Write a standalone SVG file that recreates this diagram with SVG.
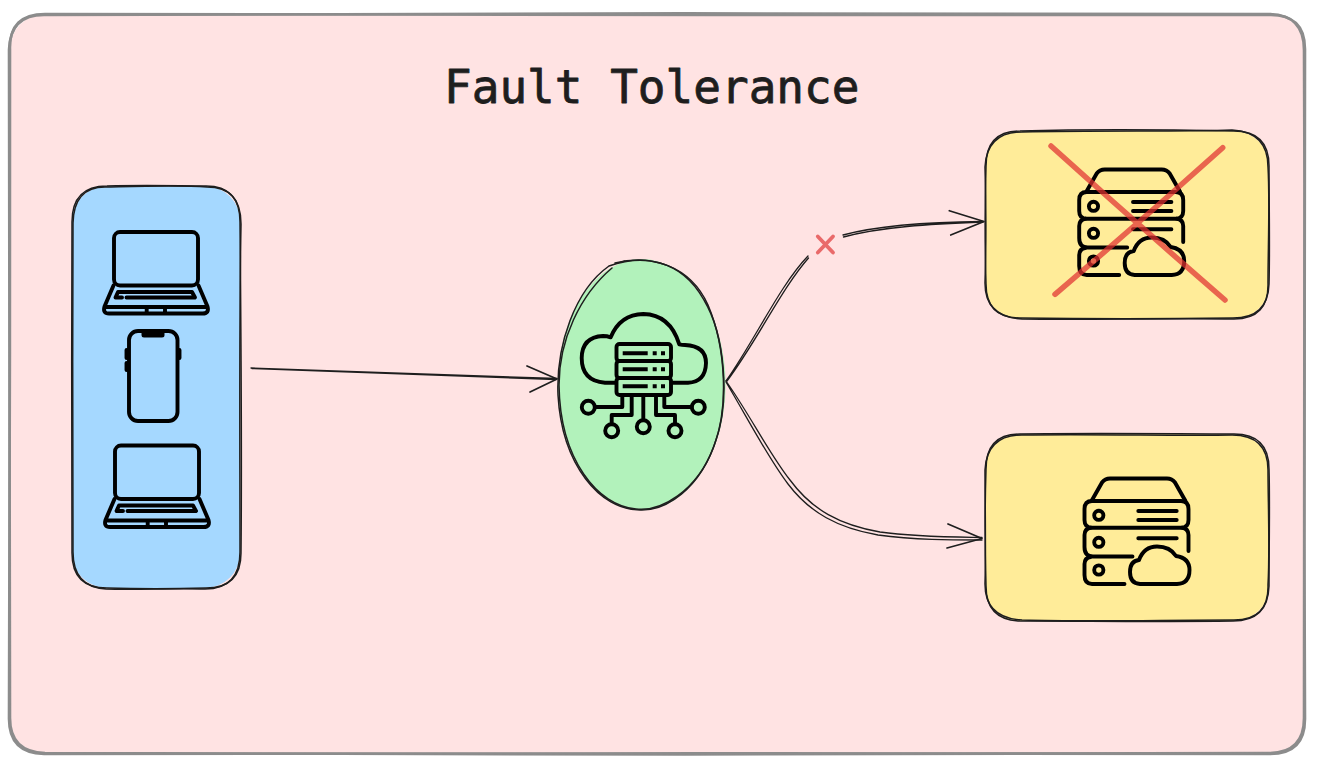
<svg xmlns="http://www.w3.org/2000/svg" width="1317" height="768" viewBox="0 0 1317 768">
<style>
.sk{fill:none;stroke:#1e1e1e;stroke-width:1.5;stroke-linecap:round;stroke-linejoin:round}
.fr{fill:none;stroke:#8c8c8c;stroke-width:2.600;stroke-linecap:round}
.ic{fill:none;stroke:#000;stroke-width:3.900;stroke-linecap:round;stroke-linejoin:round}
.cn{fill:none;stroke:#1e1e1e;stroke-width:1.300;stroke-linecap:round;stroke-linejoin:round}
.hd{fill:none;stroke:#1e1e1e;stroke-width:1.700;stroke-linecap:round;stroke-linejoin:round}
.xr{fill:none;stroke:#e03131;stroke-opacity:.72;stroke-width:5.500;stroke-linecap:round}
.title{font-family:"DejaVu Sans Mono","Liberation Mono",monospace;font-size:46px;fill:#1e1e1e;stroke:#1e1e1e;stroke-width:.8;stroke-linejoin:round}
</style>
<defs>
<g id="laptop">
<rect class="ic" x="114" y="232" width="84" height="53.500" rx="6"/>
<path class="ic" d="M113.500 285.500L104.500 306.500Q102.500 313.500 109 313.500H202.500Q209.500 313.500 207.500 306.500L198.500 285.500M105 307H207.500M146.700 307V313.500M165 307V313.500M122 297.500H115.500L118 292H192L195 297.500H126.500"/>
</g>
<g id="server">
<path class="ic" d="M1091.500 501L1102 482.500Q1105 478.500 1110 478.500H1167Q1172 478.500 1175 482.500L1185.500 501"/>
<path class="ic" d="M1092 501H1181Q1188.500 501 1188.500 509V520Q1188.500 527.700 1181 527.700H1092Q1084.500 527.700 1084.500 520V509Q1084.500 501 1092 501Z"/>
<path class="ic" d="M1091 527.700Q1084.500 528.500 1084.500 535V547Q1084.500 556.500 1093 556.500H1132.500M1182 527.700Q1188.500 528.500 1188.500 535V551"/>
<path class="ic" d="M1090.500 557Q1084.500 558 1084.500 564V575Q1084.500 584 1092 584H1124.500"/>
<circle class="ic" cx="1098.800" cy="515.300" r="4.600"/>
<circle class="ic" cx="1098.800" cy="542.300" r="4.600"/>
<circle class="ic" cx="1098.800" cy="570" r="4.600"/>
<path class="ic" d="M1138.300 511H1176.700M1138.300 520H1176.700M1138.300 538.300H1176.700"/>
<path class="ic" d="M1140 584H1177Q1189.500 583.500 1189.500 570Q1189.500 558 1176 556Q1170 546.500 1157 546.500Q1144 546.500 1139 560Q1130 561 1130 572Q1130 583.500 1140 584Z"/>
</g>
</defs>

<g id="frame">
<rect x="10" y="14" width="1295" height="740" rx="35" fill="#ffe3e3"/>
<path class="fr" d="M44 15C400 13 900 13 1270 14Q1304 15 1304 50C1305 280 1305 520 1304 718Q1304 753 1269 753C900 755 400 755 45 753Q10 752 10 718C9 500 9 280 9 50Q10 15 44 15Z"/>
<path class="fr" d="M45 14C420 15 880 15 1269 15Q1305 14 1305 49C1304 300 1304 500 1305 719Q1305 754 1270 754C880 753 420 753 44 754Q9 753 9 719C10 520 10 260 10 49Q9 14 45 14Z"/>
</g>

<text class="title" x="444" y="103">Fault Tolerance</text>

<g id="clients">
<rect x="72" y="186" width="168" height="402" rx="35" fill="#a5d8ff"/>
<path class="sk" d="M107 186C150 185 180 186 206 186Q240 186 240 222C241 330 242 450 241 553Q241 588 206 588C170 589 140 589 107 588Q72 588 72 553C71 450 72 330 72 222Q72 186 107 186Z"/>
<path class="sk" d="M105 187C150 186 180 185 207 187Q241 187 241 224C239 330 240 450 240 552Q240 589 205 589C170 588 140 590 106 589Q73 587 73 552C72 450 73 330 73 223Q74 187 105 187Z"/>
<use href="#laptop"/>
<use href="#laptop" transform="translate(1 213.500)"/>
<rect class="ic" x="129" y="331" width="48.500" height="90" rx="9"/>
<path d="M141.500 331H164.500V335Q164.500 337.500 162 337.500H144Q141.500 337.500 141.500 335Z" fill="#000"/>
<path class="ic" d="M126.500 350V358M126.500 363V370M179.500 350V358"/>
</g>

<g id="gateway">
<ellipse cx="641.800" cy="384.500" rx="83.800" ry="125.500" fill="#b2f2bb"/>
<path class="sk" d="M609 266C640 255 680 257 704 300C725 335 730 400 716 440C700 490 665 511 640 510C600 510 562 465 558 395C556 345 575 290 609 266L625 261"/>
<path class="sk" d="M615 263C650 254 690 265 708 305C727 350 728 410 714 446C697 492 660 512 636 509C598 506 560 460 559 385C559 340 580 295 612 268"/>
<path class="ic" d="M605 382.700Q581.700 381 581.700 358Q582 337 603 336Q607 336 610.700 337.300Q620 314.500 643.300 314Q670 314.500 679.300 344.300Q682 345 685 345Q706 346 706 363Q705.500 382 688 382.700H671.500M605 382.700H616"/>
<rect class="ic" x="616.500" y="344" width="54.500" height="17" rx="3"/>
<rect class="ic" x="616.500" y="361" width="54.500" height="17" rx="3"/>
<rect class="ic" x="616.500" y="378" width="54.500" height="17" rx="3"/>
<path d="M622.700 351.300h25v4h-25zM652.700 351.300h4v4h-4zM661 351.300h4v4h-4zM622.700 367.300h25v4h-25zM652.700 367.300h4v4h-4zM661 367.300h4v4h-4zM622.700 384.300h25v4h-25zM652.700 384.300h4v4h-4zM661 384.300h4v4h-4z" fill="#000"/>
<path class="ic" d="M595 407H622.300V395M611.700 424V415H631.700V395M643.300 395V420M691.700 407H664.300V395M675 424V415H656V395"/>
<circle class="ic" cx="588.300" cy="407.300" r="6.500"/>
<circle class="ic" cx="611.700" cy="430.700" r="6.500"/>
<circle class="ic" cx="643.300" cy="426.700" r="6.500"/>
<circle class="ic" cx="675" cy="430.700" r="6.500"/>
<circle class="ic" cx="698.300" cy="407.300" r="6.500"/>
</g>

<g id="server-failed">
<rect x="985" y="131" width="284" height="188" rx="35" fill="#ffec99"/>
<path class="sk" d="M1020 131C1100 129 1180 130 1234 131Q1269 131 1269 166C1269 200 1270 250 1269 284Q1268 318 1233 318C1160 319 1090 319 1020 318Q986 318 986 284C985 250 985 200 986 166Q986 131 1020 131Z"/>
<path class="sk" d="M1022 132C1100 130 1180 132 1232 130Q1268 132 1268 167C1270 200 1268 250 1268 283Q1269 319 1234 319C1160 318 1090 320 1022 319Q985 317 985 283C986 250 986 200 985 167Q987 132 1022 132Z"/>
<use href="#server" transform="translate(-5.300 -309)"/>
<path class="xr" d="M1051 146Q1135 222 1225 300M1222.700 147.700Q1140 222 1055 294.300"/>
</g>

<g id="server-ok">
<rect x="985" y="434" width="284" height="187" rx="35" fill="#ffec99"/>
<path class="sk" d="M1020 434C1100 433 1180 434 1234 434Q1269 434 1269 469C1270 500 1269 550 1269 586Q1268 621 1233 621C1160 622 1090 621 1020 621Q986 620 986 586C985 550 985 500 986 469Q986 434 1020 434Z"/>
<path class="sk" d="M1022 435C1100 434 1180 436 1232 435Q1268 435 1268 470C1268 500 1270 550 1268 585Q1269 620 1234 620C1160 620 1090 622 1022 620Q985 618 985 584C986 550 985 500 985 470Q987 435 1022 435Z"/>
<use href="#server"/>
</g>

<g id="connectors">
<path class="cn" d="M251 368L557 378.500M252 368.500L556 379.500"/>
<path class="hd" d="M527 366L557 379L530 392"/>
<path class="cn" d="M726 381C755 340 780 285 808 256M727 381C757 341 782 288 808.500 258"/>
<path class="cn" d="M843 235C880 225 930 222 983 221.500M843.500 237C880 227 930 224 983 222"/>
<path class="hd" d="M949.300 210.700L984 221.500L950.700 235"/>
<path class="cn" d="M726 381C750 415 770 455 790 480C812 510 840 525 880 532C915 537 950 537 982 537.500M726 382C748 419 768 458 788 484C810 513 838 528 878 535C915 540 950 540 982 540"/>
<path class="hd" d="M948 524L982 538.500L947 548"/>
<path d="M817.800 236.500L833 252.500M833 236.500L817.800 252.500" fill="none" stroke="#e96a6a" stroke-width="3.800" stroke-linecap="round"/>
</g>
</svg>
